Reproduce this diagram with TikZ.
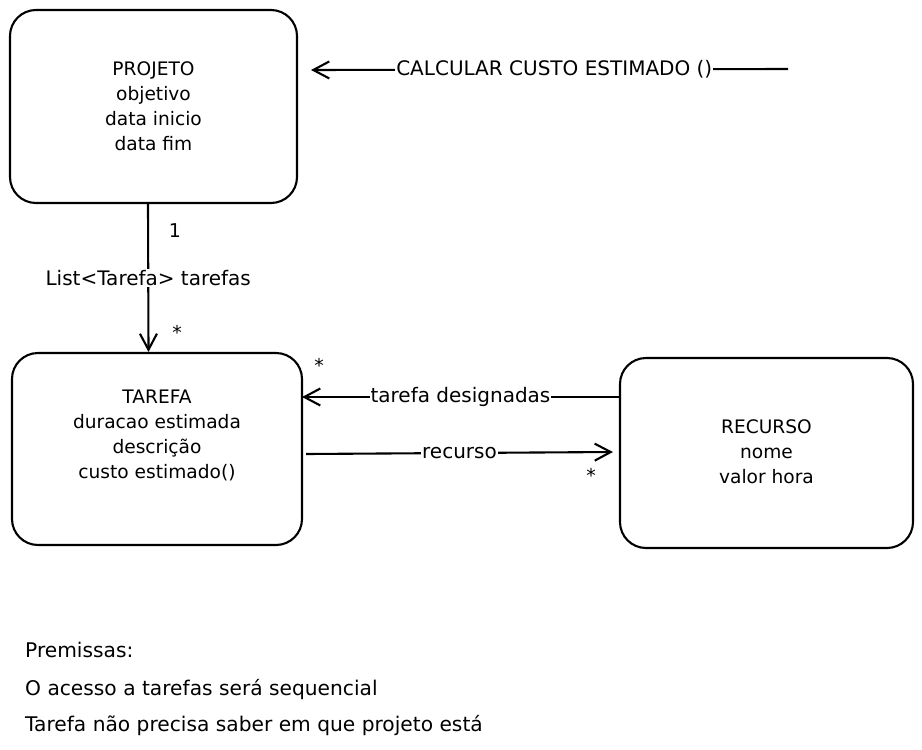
\documentclass[tikz,border=0pt]{standalone}
\usepackage{fontspec}
\setmainfont{DejaVu Sans}
\usetikzlibrary{arrows.meta,calc}
\begin{document}
\begin{tikzpicture}[x=1pt,y=-1pt,
  box/.style={draw, line width=2.1pt, rounded corners=26pt, inner sep=0pt},
  txt/.style={font=\fontsize{18.6}{25}\selectfont, align=center},
  arr/.style={line width=2.1pt, -{Straight Barb[length=16pt,width=17pt,line width=2.1pt]}},
  lbl/.style={font=\fontsize{20}{22}\selectfont, fill=white, inner sep=1pt},
  mult/.style={font=\fontsize{19}{20}\selectfont},
  note/.style={font=\fontsize{20.2}{24}\selectfont, anchor=base west, inner sep=0pt}]
\useasboundingbox[fill=white] (0,0) rectangle (922,750);
% boxes
\node[box, minimum width=287pt, minimum height=193pt] (projeto) at (153.5,106.5) {};
\node[box, minimum width=290pt, minimum height=192pt] (tarefa) at (157,449) {};
\node[box, minimum width=293pt, minimum height=190pt] (recurso) at (766.5,453) {};
% box texts
\node[txt] (projetotxt) at (153.5,106) {PROJETO\\objetivo\\data inicio\\data fim};
\node[txt] (tarefatxt) at (157,435) {TAREFA\\duracao estimada\\descrição\\custo estimado()};
\node[txt] (recursotxt) at (766.5,452) {RECURSO\\nome\\valor hora};
% calcular arrow
\coordinate (calcstart) at (788,69);
\draw[arr] (calcstart) -- ($(projeto.east |- calcstart)+(13,1)$)
  node[lbl, pos=0.49] (calclbl) {CALCULAR CUSTO ESTIMADO ()};
% projeto -> tarefa
\draw[arr] ($(projeto.south)+(-5.5,0)$) -- ($(tarefa.north)+(-8.5,0)$)
  node[lbl, pos=0.5] (listlbl) {List<Tarefa> tarefas};
\node[mult] (m1) at (175,231) {1};
\node[mult] (m2) at (177,332) {*};
% recurso -> tarefa
\coordinate (tdy) at (0,397);
\draw[arr] (recurso.west |- tdy) -- ($(tarefa.east |- tdy)+(-1,0)$)
  node[lbl, pos=0.5] (tdlbl) {tarefa designadas};
\node[mult] (m3) at (319,365) {*};
% tarefa -> recurso
\coordinate (rcy) at (0,453);
\draw[arr] ($(tarefa.east |- rcy)+(3,1)$) -- ($(recurso.west |- rcy)+(-6,-1)$)
  node[lbl, pos=0.5] (rclbl) {recurso};
\node[mult] (m4) at (591,475) {*};
% premissas
\node[note] (p1) at (25,657) {Premissas:};
\node[note] (p2) at (25,695) {O acesso a tarefas será sequencial};
\node[note] (p3) at (25,731) {Tarefa não precisa saber em que projeto está};
\end{tikzpicture}
\end{document}
